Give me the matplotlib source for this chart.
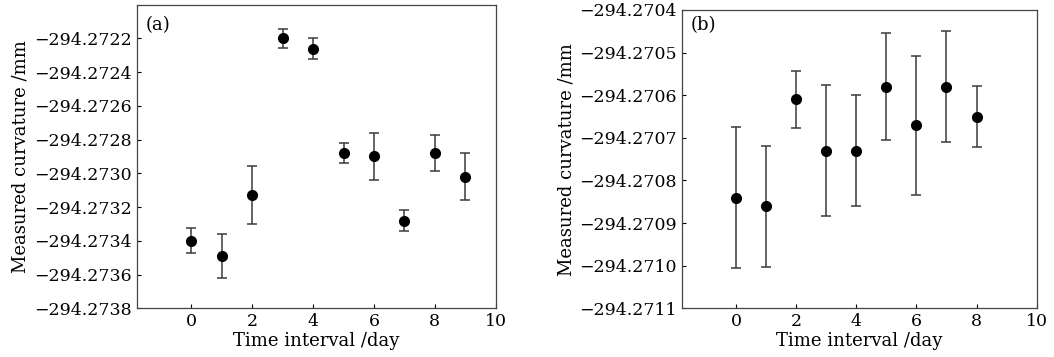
import matplotlib
matplotlib.use('Agg')
import matplotlib.pyplot as plt
from matplotlib.ticker import FuncFormatter
import numpy as np

# panel (a)
days_a = [0, 1, 2, 3, 4, 5, 6, 7, 8, 9]
curv_a = [-294.27340, -294.27349, -294.27313, -294.27220, -294.27226,
          -294.27288, -294.27290, -294.27328, -294.27288, -294.27302]
err_a = [0.000075, 0.000133, 0.000173, 0.000058, 0.000063,
         0.000060, 0.000137, 0.000060, 0.000105, 0.000140]

# panel (b)
days_b = [0, 1, 2, 3, 4, 5, 6, 7, 8]
curv_b = [-294.27084, -294.27086, -294.27061, -294.27073, -294.27073,
          -294.27058, -294.27067, -294.27058, -294.27065]
err_b = [0.000165, 0.000142, 0.000068, 0.000153, 0.000131,
         0.000125, 0.000163, 0.000130, 0.000071]

plt.rcParams['font.family'] = ['DejaVu Serif']
plt.rcParams['font.size'] = 12.5


def fmt(v, pos):
    s = '%.4f' % v
    return s.replace('-', '\u2212')


fig = plt.figure(figsize=(10.54, 3.57), dpi=100)
ax_a = fig.add_axes([0.1297, 0.1364, 0.3406, 0.8506])
ax_b = fig.add_axes([0.6468, 0.1364, 0.3368, 0.8356])

panels = [
    (ax_a, days_a, curv_a, err_a, '(a)', (-294.2738, -294.2720),
     np.arange(-294.2738, -294.27215, 0.0002), 0.933),
    (ax_b, days_b, curv_b, err_b, '(b)', (-294.2711, -294.2704),
     np.arange(-294.2711, -294.27035, 0.0001), 0.95),
]

for ax, x, y, e, tag, ylim, yt, ty in panels:
    ax.errorbar(x, y, yerr=e, fmt='o', color='black', ms=7,
                ecolor='#3a3a3a', elinewidth=1.1, capsize=3.5, capthick=1.1)
    ax.set_xlim(-1.8, 10)
    ax.set_ylim(*ylim)
    ax.set_xticks([0, 2, 4, 6, 8, 10])
    ax.set_yticks(yt)
    ax.yaxis.set_major_formatter(FuncFormatter(fmt))
    ax.tick_params(direction='in', length=3, width=0.8, top=False, right=False)
    ax.set_xlabel('Time interval /day', labelpad=1, fontsize=13)
    ax.set_ylabel('Measured curvature /mm', labelpad=3, fontsize=13)
    ax.text(0.025, ty, tag, transform=ax.transAxes, ha='left', va='center',
            fontsize=13)
    for sp in ax.spines.values():
        sp.set_color('#444444')
        sp.set_linewidth(0.9)

fig.savefig('out.png', dpi=100)
